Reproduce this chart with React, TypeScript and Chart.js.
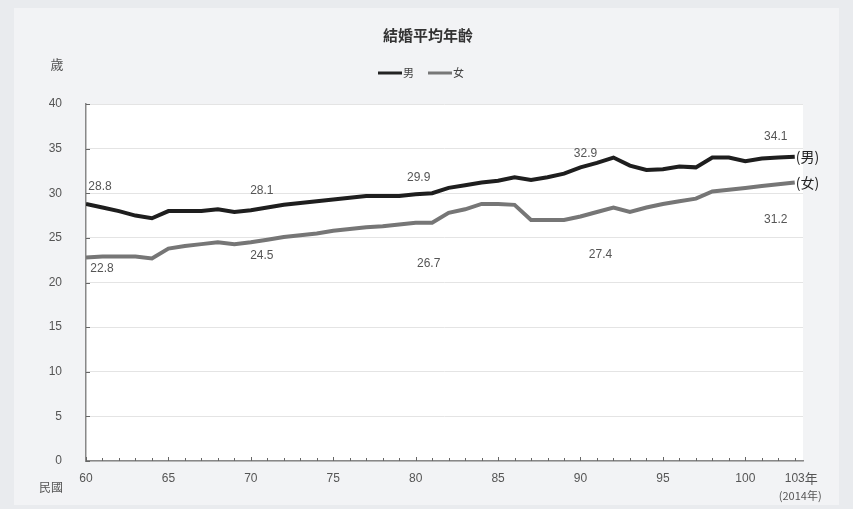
import React, { useEffect, useRef } from "react";
import { Chart, registerables } from "chart.js";

Chart.register(...registerables);

const years = [
  60, 61, 62, 63, 64, 65, 66, 67, 68, 69, 70, 71, 72, 73, 74, 75, 76, 77, 78, 79, 80, 81,
  82, 83, 84, 85, 86, 87, 88, 89, 90, 91, 92, 93, 94, 95, 96, 97, 98, 99, 100, 101, 102, 103,
];
const male = [
  28.8, 28.4, 28.0, 27.5, 27.2, 28.0, 28.0, 28.0, 28.2, 27.9, 28.1, 28.4, 28.7, 28.9, 29.1,
  29.3, 29.5, 29.7, 29.7, 29.7, 29.9, 30.0, 30.6, 30.9, 31.2, 31.4, 31.8, 31.5, 31.8, 32.2,
  32.9, 33.4, 34.0, 33.1, 32.6, 32.7, 33.0, 32.9, 34.0, 34.0, 33.6, 33.9, 34.0, 34.1,
];
const female = [
  22.8, 22.9, 22.9, 22.9, 22.7, 23.8, 24.1, 24.3, 24.5, 24.3, 24.5, 24.8, 25.1, 25.3, 25.5,
  25.8, 26.0, 26.2, 26.3, 26.5, 26.7, 26.7, 27.8, 28.2, 28.8, 28.8, 28.7, 27.0, 27.0, 27.0,
  27.4, 27.9, 28.4, 27.9, 28.4, 28.8, 29.1, 29.4, 30.2, 30.4, 30.6, 30.8, 31.0, 31.2,
];
const xTickLabels = [60, 65, 70, 75, 80, 85, 90, 95, 100, 103];
const labeledYears = [60, 70, 80, 90, 103];
const title = "結婚平均年齡";
const seriesNames = ["男", "女"];

// label offsets (styling only)
const maleLabelOffsets = [
  [14, -17],
  [11, -20],
  [3, -16],
  [5, -14],
  [-19, -20],
];
const femaleLabelOffsets = [
  [16, 11],
  [11, 13],
  [13, 41],
  [20, 38],
  [-19, 37],
];

const FONT = "'Liberation Sans', Arial, sans-serif";
const CJK = "'Noto Sans CJK TC', 'Noto Sans CJK SC', sans-serif";

export default function App() {
  const ref = useRef<HTMLCanvasElement>(null);
  useEffect(() => {
    document.body.style.margin = "0";
    const ctx = ref.current!.getContext("2d")!;
    const decor = {
      id: "decor",
      beforeDraw(chart: any) {
        const c = chart.ctx;
        const a = chart.chartArea;
        c.save();
        c.fillStyle = "#e9ebee";
        c.fillRect(0, 0, chart.width, chart.height);
        c.fillStyle = "#f2f3f5";
        c.fillRect(14, 8, chart.width - 28, chart.height - 12);
        c.fillStyle = "#ffffff";
        c.fillRect(a.left, a.top, a.right - a.left, a.bottom - a.top);
        c.restore();
      },
      afterDraw(chart: any) {
        const c = chart.ctx;
        const xs = chart.scales.x;
        const ys = chart.scales.y;
        const a = chart.chartArea;
        c.save();
        // minor ticks
        c.strokeStyle = "#666";
        c.lineWidth = 1;
        years.forEach((yr) => {
          const px = Math.round(xs.getPixelForValue(yr)) + 0.5;
          c.beginPath();
          c.moveTo(px, a.bottom);
          c.lineTo(px, a.bottom - (yr % 5 === 0 ? 4 : 3));
          c.stroke();
        });
        [0, 5, 10, 15, 20, 25, 30, 35, 40].forEach((v) => {
          const py = Math.round(ys.getPixelForValue(v)) + 0.5;
          c.beginPath();
          c.moveTo(a.left, py);
          c.lineTo(a.left + 4, py);
          c.stroke();
        });
        // title
        c.fillStyle = "#333";
        c.textAlign = "center";
        c.textBaseline = "middle";
        c.font = `bold 15px ${CJK}`;
        c.fillText(title, 428, 35);
        // legend
        c.lineWidth = 3;
        c.strokeStyle = "#222";
        c.beginPath();
        c.moveTo(378, 73);
        c.lineTo(402, 73);
        c.stroke();
        c.strokeStyle = "#777";
        c.beginPath();
        c.moveTo(428, 73);
        c.lineTo(452, 73);
        c.stroke();
        c.font = `11px ${CJK}`;
        c.fillStyle = "#444";
        c.textAlign = "left";
        c.fillText(seriesNames[0], 403, 73);
        c.fillText(seriesNames[1], 453, 73);
        // axis unit labels
        c.font = `13px ${CJK}`;
        c.fillStyle = "#555";
        c.textAlign = "center";
        c.fillText("歲", 57, 64);
        c.font = `12px ${CJK}`;
        c.fillText("民國", 51, 487);
        c.textAlign = "left";
        c.font = `13px ${CJK}`;
        c.fillText("年", xs.getPixelForValue(103) + 10, 478);
        c.font = `11px ${CJK}`;
        c.fillText("(2014年)", xs.getPixelForValue(103) - 16, 496);
        // end labels
        c.font = `14px ${CJK}`;
        c.fillStyle = "#222";
        c.fillText("(" + seriesNames[0] + ")", xs.getPixelForValue(103) + 1, ys.getPixelForValue(male[male.length - 1]));
        c.fillText("(" + seriesNames[1] + ")", xs.getPixelForValue(103) + 1, ys.getPixelForValue(female[female.length - 1]));
        // value labels
        c.font = `12px ${FONT}`;
        c.fillStyle = "#555";
        c.textAlign = "center";
        labeledYears.forEach((yr, i) => {
          const idx = years.indexOf(yr);
          const px = xs.getPixelForValue(yr);
          const [mdx, mdy] = maleLabelOffsets[i];
          c.fillText(male[idx].toFixed(1), px + mdx, ys.getPixelForValue(male[idx]) + mdy);
          const [fdx, fdy] = femaleLabelOffsets[i];
          c.fillText(female[idx].toFixed(1), px + fdx, ys.getPixelForValue(female[idx]) + fdy);
        });
        c.restore();
      },
    };
    const chart = new Chart(ctx, {
      type: "line",
      data: {
        datasets: [
          {
            label: seriesNames[0],
            data: years.map((x, i) => ({ x, y: male[i] })),
            borderColor: "#1e1e1e",
            borderWidth: 4,
            pointRadius: 0,
            tension: 0,
          },
          {
            label: seriesNames[1],
            data: years.map((x, i) => ({ x, y: female[i] })),
            borderColor: "#767676",
            borderWidth: 4,
            pointRadius: 0,
            tension: 0,
          },
        ],
      },
      options: {
        animation: false,
        responsive: false,
        layout: { padding: { left: 0, right: 50, top: 104, bottom: 0 } },
        plugins: { legend: { display: false }, tooltip: { enabled: false } },
        scales: {
          x: {
            type: "linear",
            min: 60,
            max: 103.5,
            afterBuildTicks: (s: any) => {
              s.ticks = xTickLabels.map((v) => ({ value: v }));
            },
            afterFit: (s: any) => {
              s.height = 48;
            },
            grid: { drawOnChartArea: false, drawTicks: false },
            border: { display: true, color: "#888", width: 1.5 },
            ticks: {
              padding: 10,
              color: "#555",
              font: { size: 12, family: FONT },
              maxRotation: 0,
              autoSkip: false,
              callback: (v: any) => String(v),
            },
          },
          y: {
            min: 0,
            max: 40,
            afterFit: (s: any) => {
              s.width = 86;
            },
            grid: { color: "#e4e4e4", drawTicks: false },
            border: { display: true, color: "#888", width: 1.5 },
            ticks: {
              stepSize: 5,
              padding: 24,
              color: "#555",
              font: { size: 12, family: FONT },
            },
          },
        },
      },
      plugins: [decor],
    });
    return () => chart.destroy();
  }, []);
  return (
    <div style={{ width: 853, height: 509 }}>
      <canvas ref={ref} width={853} height={509} style={{ display: "block" }} />
    </div>
  );
}
